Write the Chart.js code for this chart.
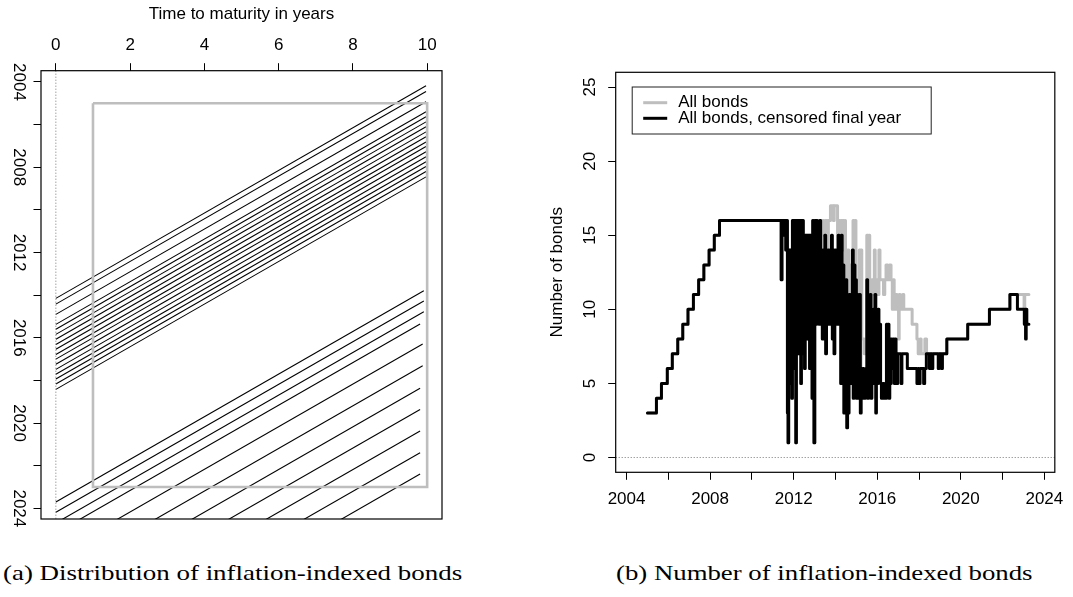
<!DOCTYPE html>
<html>
<head>
<meta charset="utf-8">
<script src="https://cdn.jsdelivr.net/npm/chart.js@4.4.1/dist/chart.umd.min.js"></script>
<style>
  html, body { margin: 0; padding: 0; background: #fff; }
  body { width: 1073px; height: 597px; position: relative; overflow: hidden; }
  canvas { position: absolute; top: 0; }
  #left { left: 0; }
  #right { left: 530px; }
  .cap { position: absolute; top: 561px; font-family: "Liberation Serif", "DejaVu Serif", serif;
         font-size: 21px; color: #000; white-space: nowrap; transform-origin: 0 0; }
</style>
</head>
<body>
<canvas id="left" width="460" height="545"></canvas>
<canvas id="right" width="543" height="545"></canvas>
<div class="cap" id="capA" style="left:3px">(a) Distribution of inflation-indexed bonds</div>
<div class="cap" id="capB" style="left:616px">(b) Number of inflation-indexed bonds</div>
<script>
// ---- panel (a): bonds, maturity date and time to maturity at issue ----
var maturities = [2014.15, 2014.42, 2014.90, 2015.37, 2015.60, 2015.84, 2016.07, 2016.31,
  2016.54, 2016.78, 2017.00, 2017.24, 2017.48, 2017.71, 2017.93, 2018.17, 2018.42,
  2023.70, 2024.18, 2024.69, 2025.16, 2026.17, 2027.19, 2028.18, 2029.17, 2030.18,
  2031.20, 2032.20];
var ttmAtIssue = [9.97, 9.97, 9.97, 9.97, 9.97, 9.97, 9.97, 9.97, 9.97, 9.97, 9.97, 9.97,
  9.97, 9.97, 9.97, 9.97, 9.97,
  9.91, 9.91, 9.91, 9.81, 9.88, 9.88, 9.81, 9.81, 9.81, 9.81, 9.81];
var windowTtm = [1, 10];
var windowYears = [2005, 2023];
var ttmTicks = [0, 2, 4, 6, 8, 10];
var yearTicks = [2004, 2006, 2008, 2010, 2012, 2014, 2016, 2018, 2020, 2022, 2024];
var yearLabels = [2004, 2008, 2012, 2016, 2020, 2024];

// ---- panel (b): number of bonds (step series) ----
// part where both series coincide
var sharedDates = [2005.00, 2005.43, 2005.67, 2005.95, 2006.19, 2006.45, 2006.69, 2006.94,
  2007.20, 2007.45, 2007.70, 2007.95, 2008.20, 2008.45,
  2011.40, 2011.44, 2011.52, 2011.56, 2011.62, 2011.66, 2011.70, 2011.73, 2011.76, 2011.79,
  2011.82, 2011.85, 2011.88, 2011.91, 2011.94, 2011.97,
  2012.00, 2012.03, 2012.06, 2012.10, 2012.13, 2012.16, 2012.19, 2012.22, 2012.25, 2012.28,
  2012.31, 2012.34, 2012.37, 2012.40, 2012.43, 2012.46, 2012.49, 2012.52, 2012.55, 2012.58,
  2012.61, 2012.64, 2012.67, 2012.70, 2012.73, 2012.76, 2012.79, 2012.82, 2012.85, 2012.88,
  2012.91, 2012.94, 2012.97,
  2013.01, 2013.05, 2013.09, 2013.13];
var sharedCounts = [3, 4, 5, 6, 7, 8, 9, 10, 11, 12, 13, 14, 15, 16,
  12, 16, 15, 16, 14, 16, 3, 1, 14, 5,
  14, 7, 14, 4, 16, 8,
  16, 6, 16, 1, 16, 9, 16, 7, 16, 9,
  16, 5, 16, 8, 16, 7, 14, 6, 15, 10,
  15, 8, 15, 9, 15, 6, 15, 7, 15, 4,
  16, 9, 1,
  16, 9, 16, 10];
// all bonds, after 2013
var allTailDates = [2013.17, 2013.20, 2013.30, 2013.34, 2013.45, 2013.50, 2013.62, 2013.66,
  2013.76, 2013.90, 2013.94, 2014.10, 2014.14, 2014.22, 2014.26, 2014.40, 2014.44, 2014.48,
  2014.50, 2014.56, 2014.60, 2014.64, 2014.70, 2014.74, 2014.80, 2014.84, 2014.90, 2014.94,
  2014.98, 2015.04, 2015.08, 2015.14, 2015.19, 2015.22, 2015.26, 2015.38, 2015.42, 2015.50,
  2015.55, 2015.60, 2015.64, 2015.70, 2015.74, 2015.80, 2015.86, 2015.90, 2015.92, 2015.97,
  2016.04, 2016.08, 2016.13, 2016.30, 2016.36, 2016.42, 2016.50, 2016.58, 2016.66, 2016.72,
  2016.76, 2016.81, 2016.90, 2016.95, 2017.02, 2017.05, 2017.10, 2017.22, 2017.27, 2017.67,
  2017.90, 2017.96, 2018.05, 2018.10, 2018.28, 2018.36, 2019.33, 2020.33, 2021.37, 2022.35,
  2023.03, 2023.06, 2023.26];
var allTailCounts = [14, 16, 14, 16, 15, 16, 14, 16,
  17, 16, 17, 14, 16, 15, 16, 14, 16, 5,
  14, 3, 14, 13, 5, 13, 11, 16, 5, 16,
  12, 5, 12, 14, 4, 14, 8, 7, 8, 15,
  5, 15, 12, 5, 12, 11, 14, 4, 11, 12,
  11, 14, 12, 11, 12, 13, 12, 13, 12, 10,
  12, 10, 11, 10, 8, 11, 10, 11, 10, 9,
  8, 7, 8, 7, 8, 7, 8, 9, 10, 11,
  10, 11, 11];
// censored final year, after 2013
var censTailDates = [2013.17, 2013.21, 2013.25, 2013.29, 2013.33, 2013.37, 2013.41, 2013.45,
  2013.49, 2013.53, 2013.57, 2013.61, 2013.65, 2013.69, 2013.73, 2013.77, 2013.81, 2013.85,
  2013.89, 2013.93, 2013.97, 2014.01, 2014.05, 2014.09, 2014.13, 2014.17, 2014.21, 2014.25,
  2014.28, 2014.32, 2014.36, 2014.40, 2014.43, 2014.47, 2014.50, 2014.54, 2014.58, 2014.62,
  2014.65, 2014.69, 2014.73, 2014.77, 2014.81, 2014.85, 2014.89, 2014.93, 2014.96, 2015.00,
  2015.04, 2015.08, 2015.12, 2015.15, 2015.19, 2015.23, 2015.27, 2015.31, 2015.35, 2015.39,
  2015.43, 2015.46, 2015.50, 2015.54, 2015.58, 2015.62, 2015.66, 2015.70, 2015.74, 2015.78,
  2015.81, 2015.85, 2015.89, 2015.93, 2015.96, 2016.00, 2016.04, 2016.08, 2016.12, 2016.16,
  2016.20, 2016.26, 2016.31, 2016.36, 2016.40, 2016.44, 2016.48, 2016.52, 2016.56, 2016.60,
  2016.64, 2016.67, 2016.72, 2016.76, 2016.82, 2016.86, 2016.90, 2016.94, 2016.98, 2017.14,
  2017.18, 2017.44, 2017.90, 2017.95, 2018.00, 2018.05, 2018.22, 2018.27, 2018.35, 2018.50,
  2018.54, 2018.62, 2018.66, 2018.92, 2018.96, 2019.08, 2019.12, 2019.33, 2020.33, 2021.37,
  2022.35, 2022.71, 2023.04, 2023.08, 2023.10, 2023.13, 2023.16, 2023.26];
var censTailCounts = [14, 9, 16, 9, 14, 8, 14, 10,
  15, 7, 14, 9, 14, 9, 14, 10, 15, 8,
  14, 7, 14, 10, 14, 9, 15, 11, 14, 5,
  15, 6, 13, 3, 12, 4, 12, 2, 8, 3,
  11, 5, 11, 6, 14, 4, 13, 5, 12, 4,
  11, 5, 4, 11, 3, 6, 4, 6, 5, 4,
  6, 5, 12, 4, 10, 5, 11, 4, 9, 5,
  10, 5, 11, 3, 10, 5, 10, 6, 9, 5,
  4, 5, 4, 5, 4, 9, 5, 9, 4, 8,
  5, 8, 6, 8, 5, 8, 7, 5, 7, 5,
  7, 6, 5, 6, 5, 6, 5, 6, 7, 6,
  7, 6, 7, 6, 7, 6, 7, 8, 9, 10,
  11, 10, 9, 10, 8, 10, 9, 9];
var countTicks = [0, 5, 10, 15, 20, 25];

var FONT = '"Liberation Sans", Arial, Helvetica, sans-serif';
var GREY = '#bebebe';

function pts(xs, ys) {
  return xs.map(function (x, i) { return {x: x, y: ys[i]}; });
}

// box drawn round the plot region, like R's box()
var framePlugin = {
  id: 'frame',
  afterDraw: function (chart) {
    var a = chart.chartArea, ctx = chart.ctx;
    ctx.save();
    ctx.strokeStyle = '#000';
    ctx.lineWidth = 1.2;
    ctx.strokeRect(a.left, a.top, a.right - a.left, a.bottom - a.top);
    ctx.restore();
  }
};

// y tick labels written along the axis (rotated)
var sideLabels = {
  id: 'sideLabels',
  afterDraw: function (chart, args, opts) {
    var s = chart.scales.y, ctx = chart.ctx;
    ctx.save();
    ctx.fillStyle = '#000';
    ctx.font = '17px ' + FONT;
    ctx.textAlign = 'center';
    ctx.textBaseline = 'middle';
    opts.values.forEach(function (v) {
      ctx.save();
      ctx.translate(opts.x, s.getPixelForValue(v));
      ctx.rotate(opts.angle * Math.PI / 180);
      ctx.fillText(String(v), 0, 0);
      ctx.restore();
    });
    ctx.restore();
  }
};

// legend box inside the plot, top left
var boxLegend = {
  id: 'boxLegend',
  afterDraw: function (chart, args, opts) {
    var ctx = chart.ctx, a = chart.chartArea;
    var x0 = a.left + 16.5, y0 = a.top + 14.7;
    ctx.save();
    ctx.strokeStyle = '#222';
    ctx.lineWidth = 1;
    ctx.strokeRect(x0, y0, 299, 47);
    ctx.font = '17px ' + FONT;
    ctx.textBaseline = 'middle';
    opts.items.forEach(function (idx, k) {
      var ds = chart.data.datasets[idx];
      var y = y0 + 15.7 + k * 15.6;
      ctx.strokeStyle = ds.borderColor;
      ctx.lineWidth = ds.borderWidth;
      ctx.beginPath();
      ctx.moveTo(x0 + 11, y);
      ctx.lineTo(x0 + 35, y);
      ctx.stroke();
      ctx.fillStyle = '#000';
      ctx.fillText(ds.label, x0 + 46, y);
    });
    ctx.restore();
  }
};

function tickGrid() {
  return {drawOnChartArea: false, drawTicks: true, tickLength: 7.5, color: '#000', lineWidth: 1};
}

// ---------- panel (a) ----------
var leftSets = [];
leftSets.push({
  label: 'window',
  data: [
    {x: windowTtm[0], y: windowYears[0]}, {x: windowTtm[1], y: windowYears[0]},
    {x: windowTtm[1], y: windowYears[1]}, {x: windowTtm[0], y: windowYears[1]},
    {x: windowTtm[0], y: windowYears[0]}
  ],
  borderColor: GREY, borderWidth: 2.6, pointRadius: 0, tension: 0, clip: 0
});
leftSets.push({
  label: 'zero',
  data: [{x: 0, y: 2003.47}, {x: 0, y: 2024.5}],
  borderColor: '#777', borderWidth: 1, borderDash: [1, 2], pointRadius: 0, clip: 0
});
maturities.forEach(function (m, i) {
  leftSets.push({
    label: 'bond ' + (i + 1),
    data: [{x: ttmAtIssue[i], y: m - ttmAtIssue[i]}, {x: 0, y: m}],
    borderColor: '#000', borderWidth: 1.1, pointRadius: 0, tension: 0, clip: 0
  });
});

new Chart(document.getElementById('left'), {
  type: 'line',
  data: {datasets: leftSets},
  options: {
    responsive: false,
    animation: false,
    events: [],
    layout: {padding: {left: 0, top: 0, right: 18, bottom: 26}},
    plugins: {
      legend: {display: false},
      tooltip: {enabled: false},
      sideLabels: {values: yearLabels, x: 18.5, angle: 90}
    },
    scales: {
      x: {
        type: 'linear', position: 'top', min: -0.4, max: 10.4,
        afterBuildTicks: function (s) { s.ticks = ttmTicks.map(function (v) { return {value: v}; }); },
        afterFit: function (s) { s.height = 70.7; },
        grid: tickGrid(),
        border: {display: false},
        ticks: {color: '#000', font: {family: FONT, size: 17}, padding: 8, maxRotation: 0, autoSkip: false},
        title: {display: true, text: 'Time to maturity in years', color: '#000',
                font: {family: FONT, size: 17}, padding: {top: 4.6, bottom: 0}}
      },
      y: {
        type: 'linear', reverse: true, min: 2003.47, max: 2024.5,
        afterBuildTicks: function (s) { s.ticks = yearTicks.map(function (v) { return {value: v}; }); },
        afterFit: function (s) { s.width = 41; },
        grid: tickGrid(),
        border: {display: false},
        ticks: {display: false}
      }
    }
  },
  plugins: [framePlugin, sideLabels]
});

// ---------- panel (b) ----------
new Chart(document.getElementById('right'), {
  type: 'line',
  data: {
    datasets: [
      {
        label: 'All bonds, censored final year',
        data: pts(sharedDates.concat(censTailDates), sharedCounts.concat(censTailCounts)),
        borderColor: '#000', borderWidth: 3, stepped: true, pointRadius: 0,
        borderJoinStyle: 'round', borderCapStyle: 'round', clip: 0
      },
      {
        label: 'All bonds',
        data: pts(sharedDates.concat(allTailDates), sharedCounts.concat(allTailCounts)),
        borderColor: GREY, borderWidth: 3, stepped: true, pointRadius: 0,
        borderJoinStyle: 'round', borderCapStyle: 'round', clip: 0
      },
      {
        label: 'zero',
        data: [{x: 2003.48, y: 0}, {x: 2024.5, y: 0}],
        borderColor: '#777', borderWidth: 1, borderDash: [1, 2], pointRadius: 0, clip: 0
      }
    ]
  },
  options: {
    responsive: false,
    animation: false,
    events: [],
    layout: {padding: {left: 0, top: 72.3, right: 9.3, bottom: 0}},
    plugins: {
      legend: {display: false},
      tooltip: {enabled: false},
      sideLabels: {values: countTicks, x: 60.5, angle: -90},
      boxLegend: {items: [1, 0]}
    },
    scales: {
      x: {
        type: 'linear', position: 'bottom', min: 2003.48, max: 2024.5,
        afterBuildTicks: function (s) { s.ticks = yearTicks.map(function (v) { return {value: v}; }); },
        afterFit: function (s) { s.height = 72.7; },
        grid: tickGrid(),
        border: {display: false},
        ticks: {
          color: '#000', font: {family: FONT, size: 17}, padding: 9.5, maxRotation: 0, autoSkip: false,
          callback: function (v) { return yearLabels.indexOf(v) >= 0 ? String(v) : ''; }
        }
      },
      y: {
        type: 'linear', min: -1, max: 26,
        afterBuildTicks: function (s) { s.ticks = countTicks.map(function (v) { return {value: v}; }); },
        afterFit: function (s) { s.width = 85.7; },
        grid: tickGrid(),
        border: {display: false},
        ticks: {display: false},
        title: {display: true, text: 'Number of bonds', color: '#000',
                font: {family: FONT, size: 17}, padding: {top: 16.8, bottom: 0}}
      }
    }
  },
  plugins: [framePlugin, sideLabels, boxLegend]
});

// stretch captions to the width they take in the figure
[['capA', 459], ['capB', 417]].forEach(function (c) {
  var el = document.getElementById(c[0]);
  el.style.transform = 'scaleX(' + (c[1] / el.offsetWidth) + ')';
});
</script>
</body>
</html>
